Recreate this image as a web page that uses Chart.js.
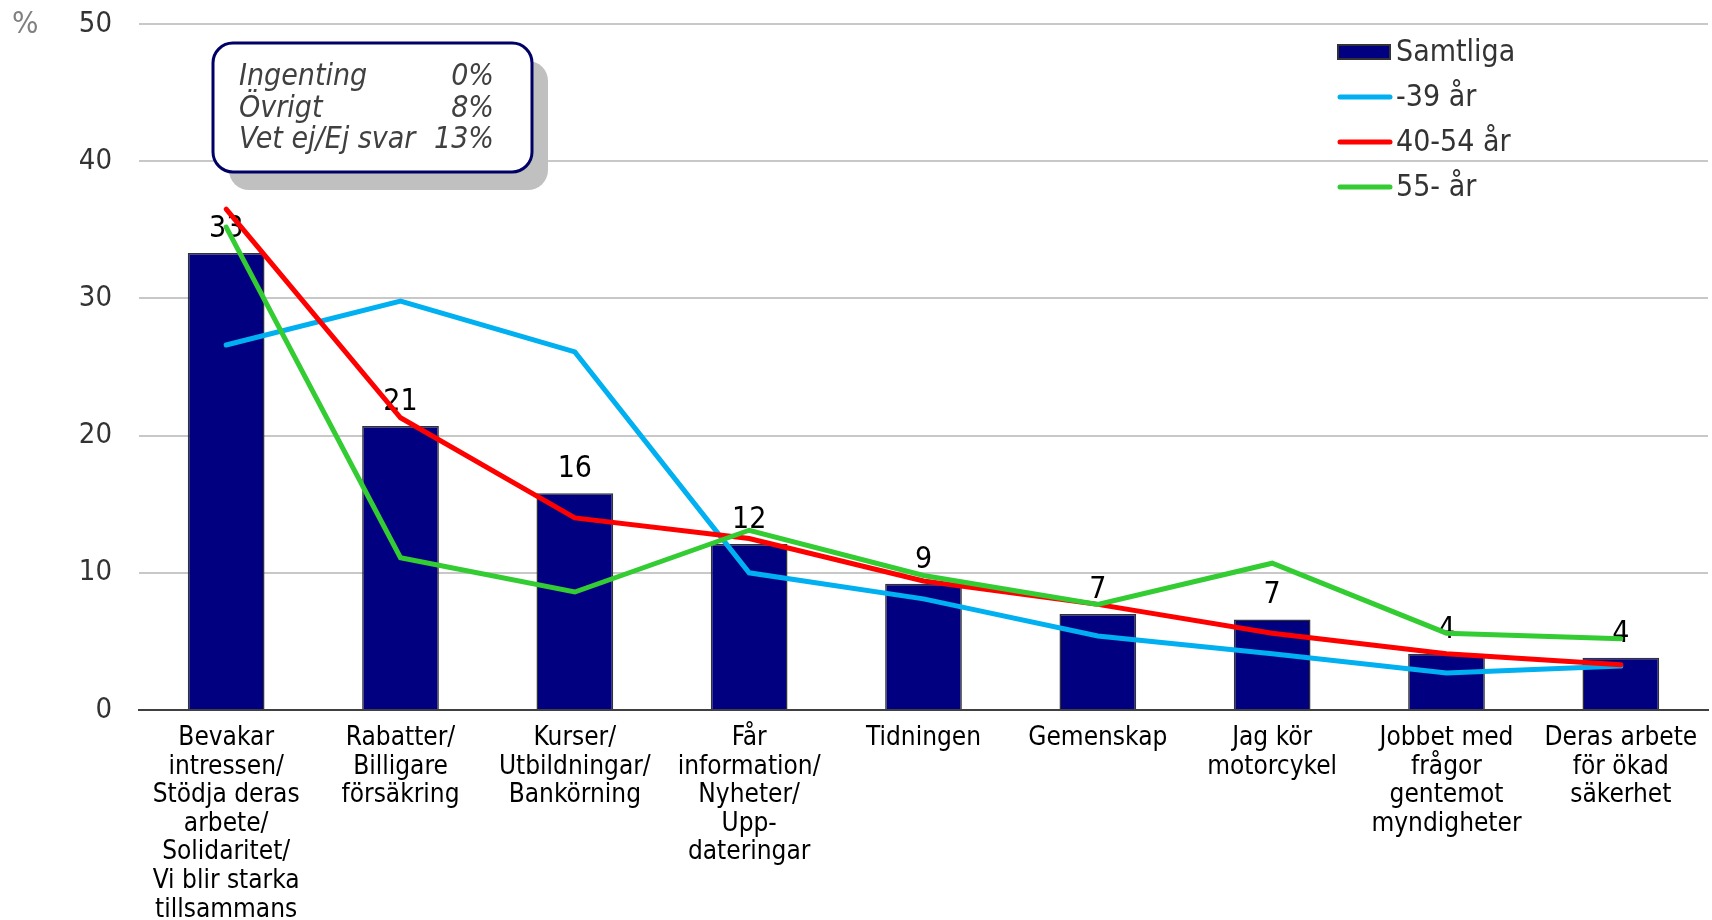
<!DOCTYPE html>
<html>
<head>
<meta charset="utf-8">
<script src="https://cdn.jsdelivr.net/npm/chart.js@4/dist/chart.umd.min.js"></script>
<style>
html,body{margin:0;padding:0;background:#fff;}
#wrap{position:relative;width:1712px;height:920px;}
</style>
</head>
<body>
<div id="wrap"><canvas id="c" width="1712" height="920"></canvas></div>
<script>
const categories = [
  ['Bevakar','intressen/','Stödja deras','arbete/','Solidaritet/','Vi blir starka','tillsammans'],
  ['Rabatter/','Billigare','försäkring'],
  ['Kurser/','Utbildningar/','Bankörning'],
  ['Får','information/','Nyheter/','Upp-','dateringar'],
  ['Tidningen'],
  ['Gemenskap'],
  ['Jag kör','motorcykel'],
  ['Jobbet med','frågor','gentemot','myndigheter'],
  ['Deras arbete','för ökad','säkerhet']
];
const samtliga = [33.3, 20.7, 15.8, 12.1, 9.2, 7.0, 6.6, 4.1, 3.8];
const age39 = [26.6, 29.8, 26.1, 10.0, 8.1, 5.4, 4.1, 2.7, 3.2];
const age40_54 = [36.5, 21.3, 14.0, 12.5, 9.4, 7.7, 5.6, 4.1, 3.3];
const age55 = [35.2, 11.1, 8.6, 13.1, 9.8, 7.7, 10.7, 5.6, 5.2];
const seriesNames = ['Samtliga', '-39 år', '40-54 år', '55- år'];
const yTicks = [0, 10, 20, 30, 40, 50];
const noteLabels = ['Ingenting', 'Övrigt', 'Vet ej/Ej svar'];
const noteValues = ['0%', '8%', '13%'];

const FONT = '"DejaVu Sans Condensed", "DejaVu Sans", Verdana, sans-serif';

const barLabelPlugin = {
  id: 'barLabels',
  afterDatasetDraw(chart, args) {
    if (args.index !== 0) return;
    const ctx = chart.ctx;
    const meta = args.meta;
    ctx.save();
    ctx.font = '30px ' + FONT;
    ctx.fillStyle = '#000';
    ctx.textAlign = 'center';
    ctx.textBaseline = 'alphabetic';
    meta.data.forEach((el, i) => {
      ctx.fillText(String(Math.round(samtliga[i])), el.x, el.y - 16);
    });
    ctx.restore();
  }
};

function roundRect(ctx, x, y, w, h, r) {
  ctx.beginPath();
  ctx.moveTo(x + r, y);
  ctx.lineTo(x + w - r, y);
  ctx.arcTo(x + w, y, x + w, y + r, r);
  ctx.lineTo(x + w, y + h - r);
  ctx.arcTo(x + w, y + h, x + w - r, y + h, r);
  ctx.lineTo(x + r, y + h);
  ctx.arcTo(x, y + h, x, y + h - r, r);
  ctx.lineTo(x, y + r);
  ctx.arcTo(x, y, x + r, y, r);
  ctx.closePath();
}

const overlayPlugin = {
  id: 'overlay',
  afterDraw(chart) {
    const ctx = chart.ctx;
    ctx.save();
    ctx.font = '31px ' + FONT;
    ctx.fillStyle = '#808080';
    ctx.textAlign = 'left';
    ctx.textBaseline = 'middle';
    ctx.fillText('%', 12, 25);

    const bx = 213, by = 43, bw = 319, bh = 129, r = 20;
    ctx.fillStyle = '#c0c0c0';
    roundRect(ctx, bx + 16, by + 18, bw, bh, r);
    ctx.fill();
    ctx.fillStyle = '#fff';
    roundRect(ctx, bx, by, bw, bh, r);
    ctx.fill();
    ctx.lineWidth = 3;
    ctx.strokeStyle = '#000066';
    ctx.stroke();
    ctx.font = 'italic 30px ' + FONT;
    ctx.fillStyle = '#404040';
    ctx.textBaseline = 'middle';
    for (let i = 0; i < noteLabels.length; i++) {
      const y = 77 + i * 31.8;
      ctx.textAlign = 'left';
      ctx.fillText(noteLabels[i], 239, y);
      ctx.textAlign = 'right';
      ctx.fillText(noteValues[i], 494, y);
    }

    const ds = chart.data.datasets;
    const lx = 1338, lw = 52, tx = 1396;
    ctx.font = '30px ' + FONT;
    ctx.textAlign = 'left';
    ctx.textBaseline = 'middle';
    for (let i = 0; i < ds.length; i++) {
      const y = 52 + i * 45;
      if (ds[i].type === 'bar') {
        ctx.fillStyle = ds[i].backgroundColor;
        ctx.fillRect(lx, y - 7, lw, 14);
        ctx.lineWidth = 2;
        ctx.strokeStyle = '#333';
        ctx.strokeRect(lx, y - 7, lw, 14);
      } else {
        ctx.beginPath();
        ctx.lineCap = 'round';
        ctx.lineWidth = 5;
        ctx.strokeStyle = ds[i].borderColor;
        ctx.moveTo(lx + 2, y);
        ctx.lineTo(lx + lw, y);
        ctx.stroke();
      }
      ctx.fillStyle = '#333';
      ctx.fillText(ds[i].label, tx, y + 1);
    }
    ctx.restore();
  }
};

new Chart(document.getElementById('c'), {
  data: {
    labels: categories,
    datasets: [
      { type: 'bar', label: seriesNames[0], data: samtliga, backgroundColor: '#000080',
        borderColor: '#333333', borderWidth: 1.5, categoryPercentage: 1, barPercentage: 0.44, order: 10 },
      { type: 'line', label: seriesNames[1], data: age39, borderColor: '#00B0F0', borderWidth: 5,
        pointRadius: 0, tension: 0, fill: false, order: 3, borderCapStyle: 'round' },
      { type: 'line', label: seriesNames[2], data: age40_54, borderColor: '#FF0000', borderWidth: 5,
        pointRadius: 0, tension: 0, fill: false, order: 2, borderCapStyle: 'round' },
      { type: 'line', label: seriesNames[3], data: age55, borderColor: '#33CC33', borderWidth: 5,
        pointRadius: 0, tension: 0, fill: false, order: 1, borderCapStyle: 'round' }
    ]
  },
  options: {
    responsive: false,
    animation: false,
    layout: { padding: { top: 24, right: 4, left: 0, bottom: 0 } },
    plugins: { legend: { display: false }, tooltip: { enabled: false } },
    scales: {
      x: {
        grid: { display: false, drawTicks: false },
        border: { display: true, color: '#404040', width: 2 },
        ticks: { autoSkip: false, maxRotation: 0, minRotation: 0, padding: 14, color: '#000',
          font: { family: FONT, size: 26, lineHeight: 1.1 } },
        afterFit(scale) { scale.height = 210; }
      },
      y: {
        min: 0, max: 50,
        afterBuildTicks(scale) { scale.ticks = yTicks.map(v => ({ value: v })); },
        grid: { color: '#c8c8c8', lineWidth: 2, drawTicks: false },
        border: { display: false },
        ticks: { padding: 27, color: '#333', font: { family: FONT, size: 29 } },
        afterFit(scale) { scale.width = 139; scale.paddingTop = 0; scale.paddingBottom = 0; }
      }
    }
  },
  plugins: [barLabelPlugin, overlayPlugin]
});
</script>
</body>
</html>
